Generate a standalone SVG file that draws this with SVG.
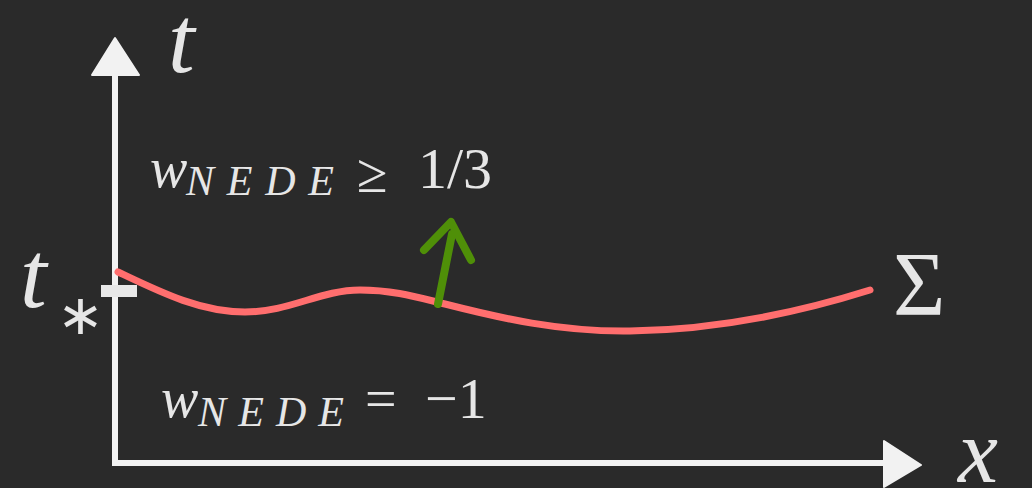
<svg xmlns="http://www.w3.org/2000/svg" width="1032" height="488" viewBox="0 0 1032 488">
<style>
.axis{stroke:#f2f2f2;stroke-width:6;fill:none;stroke-linecap:square}
.head{fill:#f2f2f2;stroke:#f2f2f2;stroke-width:2;stroke-linejoin:round}
.sigma{stroke:#ff6e6e;stroke-width:7;fill:none;stroke-linecap:round}
.normal{stroke:#4f8f08;stroke-width:8;fill:none;stroke-linecap:round;stroke-linejoin:round}
</style>
<rect width="1032" height="488" fill="#2a2a2a"/>
<g id="axes">
<line class="axis" x1="115" y1="72" x2="115" y2="463"/>
<line class="axis" x1="115" y1="463" x2="886" y2="463"/>
<polygon class="head" points="115,38 92,75 139,75"/>
<polygon class="head" points="884,441 921,465 884,487"/>
<rect x="101" y="285" width="36" height="12" fill="#e8e8e8"/>
</g>
<g id="surface">
<path class="sigma" d="M118,272 C160,292 200,312 245,312 C290,312 320,290 360,290 C395,290 420,298 445,304 C500,318 560,332 630,331 C720,330 800,312 870,290"/>
</g>
<g id="normal-arrow">
<path class="normal" d="M438,304 L452,234"/>
<path class="normal" d="M424,250 L451,222 L471,260"/>
</g>
<g id="labels" fill="#e6e6e6">
<text x="168" y="72" font-family="Liberation Serif, serif" font-style="italic" font-size="96">t</text>
<text x="20" y="307" font-family="Liberation Serif, serif" font-style="italic" font-size="96">t</text>
<text x="958" y="482" font-family="Liberation Serif, serif" font-style="italic" font-size="90">x</text>
<text x="150" y="187" font-family="Liberation Serif, serif" font-style="italic" font-size="56">w</text>
<text x="186" y="195" font-family="Liberation Serif, serif" font-style="italic" font-size="42" textLength="148" lengthAdjust="spacing">NEDE</text>
<text x="161" y="417" font-family="Liberation Serif, serif" font-style="italic" font-size="56">w</text>
<text x="198" y="426" font-family="Liberation Serif, serif" font-style="italic" font-size="42" textLength="146" lengthAdjust="spacing">NEDE</text>
<text x="57" y="334" font-family="Liberation Serif, serif" font-size="56">∗</text>
<text x="893" y="315" font-family="Liberation Serif, serif" font-size="90">Σ</text>
<text x="357" y="192" font-family="Liberation Serif, serif" font-size="56">≥</text>
<text x="418" y="188" font-family="Liberation Serif, serif" font-size="58">1/3</text>
<text x="365" y="418" font-family="Liberation Serif, serif" font-size="56">=</text>
<text x="425" y="418" font-family="Liberation Serif, serif" font-size="58">−1</text>
</g>
</svg>
